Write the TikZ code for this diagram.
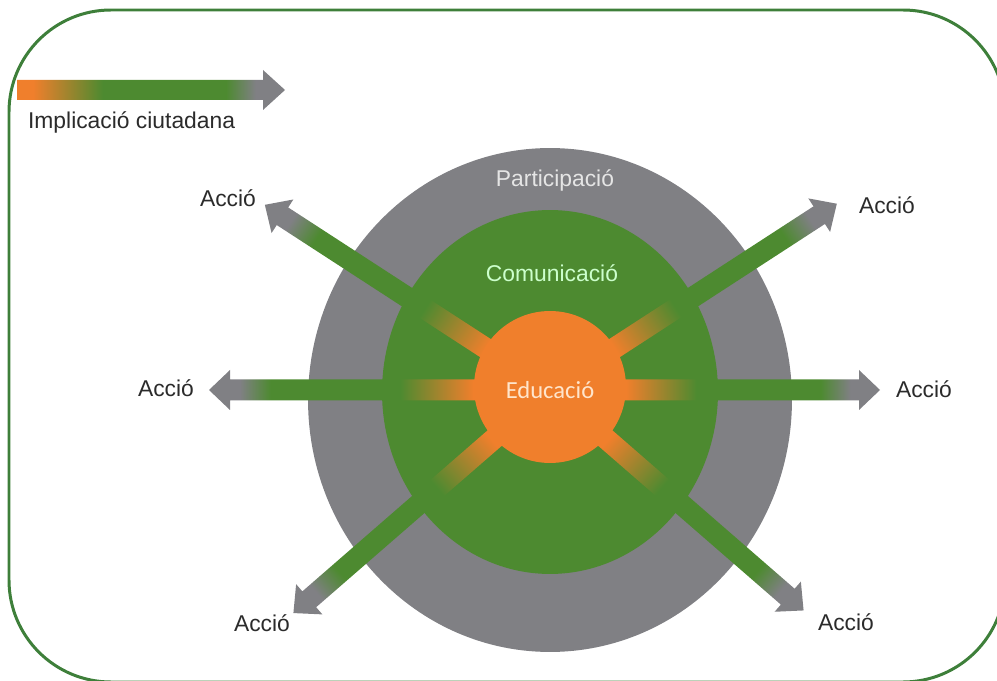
\documentclass[tikz,border=0pt]{standalone}
\usepackage{fontspec}
\setsansfont{Liberation Sans}
\newfontfamily\edufont{Carlito}
\usetikzlibrary{positioning, shapes.geometric}
\definecolor{corange}{HTML}{F07F2C}
\definecolor{cgreen}{HTML}{4D8A30}
\definecolor{cgrey}{HTML}{808084}
\definecolor{cframe}{HTML}{3E7F3A}
\definecolor{ctext}{HTML}{2B2B2B}
\pgfdeclarehorizontalshading{flow}{100bp}{color(0bp)=(corange); color(28bp)=(corange); color(41bp)=(cgreen); color(64bp)=(cgreen); color(69.5bp)=(cgrey); color(100bp)=(cgrey)}
\tikzset{
  every picture/.style={font=\sffamily\fontsize{13}{15}\selectfont},
  disc/.style={ellipse, fill=#1, draw=none, inner sep=0pt},
  lbl/.style={text=ctext, inner sep=1pt},
  inner/.style={text=#1, inner sep=1pt},
}

\begin{document}
\begin{tikzpicture}[x=0.02cm, y=0.02cm]
  \useasboundingbox (0,0) rectangle (997,680);
  \clip (0,0) rectangle (997,680);
  \draw[cframe, line width=1.7pt, rounded corners=2.04cm] (9,-2) rectangle (1005,670);
  % legend
  \shade[shading=flow] (17,580) -- (263,580) -- (263,570) -- (285,590) -- (263,610) -- (263,600) -- (17,600) -- cycle;
  \node[lbl, anchor=west] (impl) at (26,558) {Implicació ciutadana};
  % rings
  \node[disc=cgrey, minimum width=9.68cm, minimum height=10.08cm] (part) at (550,280) {};
  \node[disc=cgreen, minimum width=6.72cm, minimum height=7.28cm] (comu) at (550,288) {};
  % spokes
  \foreach \ang/\len in {0/330, 33/342, 147/340, 180/341, 221/340, 319/336} {
    \begin{scope}[transform canvas={shift={(550,290)}, rotate=\ang}]
      \shade[shading=flow] (60,-10.5) -- (\len-21,-10.5) -- (\len-21,-20) -- (\len,0) -- (\len-21,20) -- (\len-21,10.5) -- (60,10.5) -- cycle;
    \end{scope}
  }
  \node[circle, fill=corange, minimum size=3.04cm, inner sep=0pt] (edu) at (550,293) {};
  % texts
  \node[inner=black!10] (tpart) at (555,500) {Participació};
  \node[inner=green!20!white] (tcomu) at (552,407) {Comunicació};
  \node[inner=orange!20!white, font=\edufont\fontsize{14}{16}\selectfont] (tedu) at (550,290) {Educació};
  \node[lbl] (a1) at (228,482) {Acció};
  \node[lbl] (a2) at (887,475) {Acció};
  \node[lbl] (a3) at (166,292) {Acció};
  \node[lbl] (a4) at (924,291) {Acció};
  \node[lbl] (a5) at (262,57) {Acció};
  \node[lbl] (a6) at (846,58) {Acció};
\end{tikzpicture}
\end{document}
